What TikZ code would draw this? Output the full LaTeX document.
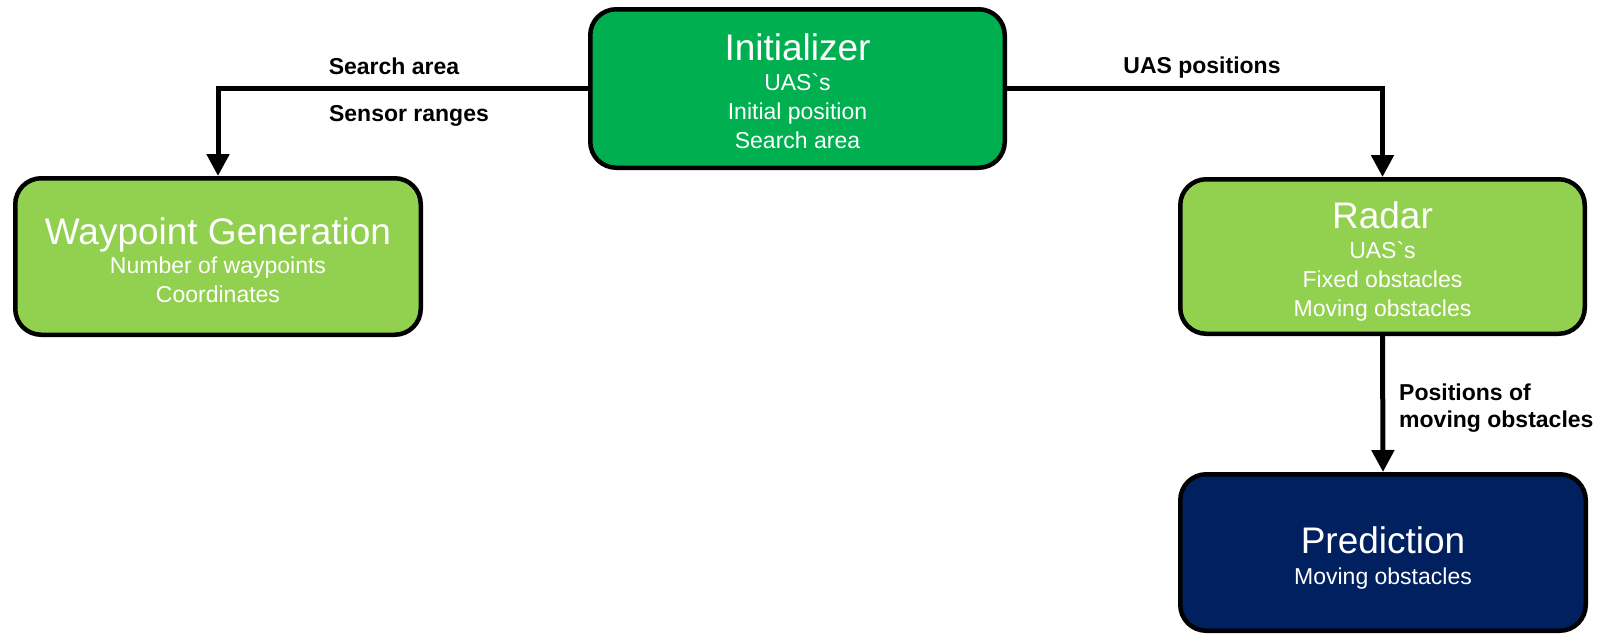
\documentclass[tikz,border=0pt]{standalone}
\usepackage{fontspec}
\setmainfont{Liberation Sans}[Ligatures=TeXOff]
\usetikzlibrary{arrows.meta}
\definecolor{initgreen}{HTML}{00B050}
\definecolor{lightgreen}{HTML}{92D050}
\definecolor{navyblue}{HTML}{002060}
\tikzset{
  block/.style={draw=black, line width=4.5pt, rounded corners=26pt, text=white,
    align=center, inner sep=0pt, font=\fontsize{23}{29}\selectfont},
  flow/.style={line width=5pt, -{Triangle[length=22pt,width=22pt]}},
  lbl/.style={font=\bfseries\fontsize{23}{27}\selectfont, inner sep=0pt}
}
% block heading; the optional argument lowers the whole text block
\newcommand\blocktitle[2][0pt]{{\fontsize{37}{29}\selectfont\rule{0pt}{\dimexpr 26.5pt+#1*2\relax}#2}}
\begin{document}
\begin{tikzpicture}[x=1pt,y=-1pt]
\useasboundingbox (0,0) rectangle (1603,633);

% processing blocks
\node[block, fill=initgreen, minimum width=414.5pt, minimum height=158.5pt] (init) at (797.5,88.5)
  {\blocktitle[3pt]{Initializer}\\[1pt]UAS`s\\Initial position\\Search area};
\node[block, fill=lightgreen, minimum width=405.5pt, minimum height=156.5pt] (wp) at (218,256.5)
  {\blocktitle[4pt]{Waypoint Generation}\\Number of waypoints\\Coordinates};
\node[block, fill=lightgreen, minimum width=404.5pt, minimum height=154.5pt] (radar) at (1382.5,256.5)
  {\blocktitle[5.5pt]{Radar}\\[1pt]UAS`s\\Fixed obstacles\\Moving obstacles};
\node[block, fill=navyblue, minimum width=405.5pt, minimum height=156.5pt] (pred) at (1383,552.5)
  {\blocktitle[6pt]{Prediction}\\[2pt]Moving obstacles};

% data flow
\draw[flow] (init.west) -| (wp.north);
\draw[flow] (init.east) -| (radar.north);
\draw[flow] (radar.south) -- (pred.north);

% flow labels
\node[lbl] (lsearch) at (394,66) {Search area};
\node[lbl] (lsensor) at (409,116) {Sensor ranges};
\node[lbl] (luas) at (1202,68) {UAS positions};
\node[lbl, anchor=west, align=left] (lmoving) at (1399,408) {Positions of\\moving obstacles};
\end{tikzpicture}
\end{document}
